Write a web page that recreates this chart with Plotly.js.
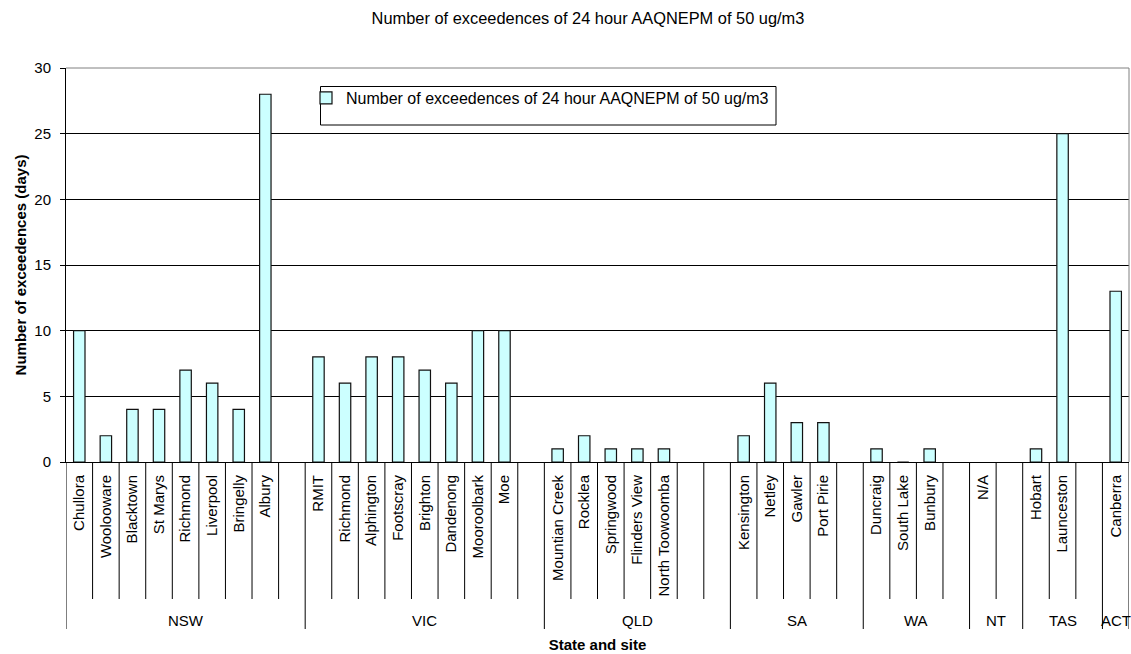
<!DOCTYPE html>
<html><head><meta charset="utf-8">
<script src="https://cdn.plot.ly/plotly-3.0.1.min.js"></script>
<style>html,body{margin:0;padding:0;background:#fff}#chart{width:1131px;height:654px}</style>
</head><body><div id="chart"></div>
<script>
const chartTitle = 'Number of exceedences of 24 hour AAQNEPM of 50 ug/m3';
const seriesName = 'Number of exceedences of 24 hour AAQNEPM of 50 ug/m3';
const yAxisTitle = 'Number of exceedences (days)';
const xAxisTitle = 'State and site';
const states = ['NSW','VIC','QLD','SA','WA','NT','TAS','ACT'];
const nswSites = ['Chullora','Woolooware','Blacktown','St Marys','Richmond','Liverpool','Bringelly','Albury',''];
const nswValues = [10,2,4,4,7,6,4,28,null];
const vicSites = ['RMIT','Richmond','Alphington','Footscray','Brighton','Dandenong','Mooroolbark','Moe',''];
const vicValues = [8,6,8,8,7,6,10,10,null];
const qldSites = ['Mountian Creek','Rocklea','Springwood','Flinders View','North Toowoomba','',''];
const qldValues = [1,2,1,1,1,null,null];
const saSites = ['Kensington','Netley','Gawler','Port Pirie',''];
const saValues = [2,6,3,3,null];
const waSites = ['Duncraig','South Lake','Bunbury',''];
const waValues = [1,0,1,null];
const ntSites = ['N/A',''];
const ntValues = [null,null];
const tasSites = ['Hobart','Launceston',''];
const tasValues = [1,25,null];
const actSites = ['Canberra'];
const actValues = [13];
const yTicks = [0,5,10,15,20,25,30];

const siteLists = [nswSites, vicSites, qldSites, saSites, waSites, ntSites, tasSites, actSites];
const valueLists = [nswValues, vicValues, qldValues, saValues, waValues, ntValues, tasValues, actValues];

const xs = [], ys = [], tickText = [], groupStart = [], groupEnd = [];
let idx = 0;
siteLists.forEach((list, g) => {
  groupStart.push(idx);
  list.forEach((name, i) => { xs.push(idx); tickText.push(name); ys.push(valueLists[g][i]); idx++; });
  groupEnd.push(idx - 1);
});
const nSlots = idx;

const W = 1131, H = 654;
const M = {l: 66, r: 2, t: 68, b: 192};
const plotH = H - M.t - M.b;
const plotW = W - M.l - M.r;
const py = p => (H - M.b - p) / plotH;  // pixel y -> paper y
const px = p => (p - M.l) / plotW;      // pixel x -> paper x
const FONT = 'Liberation Sans, Arial, sans-serif';

const shapes = [];
for (let k = 0; k <= nSlots; k++) {
  const isGroup = groupStart.includes(k) || k === nSlots;
  shapes.push({type: 'line', xref: 'x', yref: 'paper', x0: k - 0.5, x1: k - 0.5,
    y0: 0, y1: py(isGroup ? 629 : 599), line: {color: '#000', width: 1}});
}
shapes.push({type: 'line', xref: 'paper', yref: 'paper', x0: 0, x1: 1, y0: 1, y1: 1, line: {color: '#808080', width: 1}, layer: 'above'});
shapes.push({type: 'line', xref: 'paper', yref: 'paper', x0: 1, x1: 1, y0: 0, y1: 1, line: {color: '#808080', width: 1}, layer: 'above'});
// legend box
shapes.push({type: 'rect', xref: 'paper', yref: 'paper', x0: px(320.5), x1: px(776), y0: py(125), y1: py(86.5),
  line: {color: '#000', width: 1}, fillcolor: '#fff', layer: 'above'});

const annotations = states.map((s, g) => ({
  xref: 'x', yref: 'paper', x: (groupStart[g] + groupEnd[g]) / 2, y: py(620),
  text: s, showarrow: false, xanchor: 'center', yanchor: 'middle',
  font: {family: FONT, size: 15, color: '#000'}
}));

const trace = {
  type: 'bar', x: xs, y: ys, name: seriesName, width: 0.43,
  marker: {color: '#CCFFFF', line: {color: '#111', width: 1.2}},
  hoverinfo: 'x+y'
};

const layout = {
  width: W, height: H, margin: M, paper_bgcolor: '#fff', plot_bgcolor: '#fff',
  font: {family: FONT, size: 15, color: '#000'},
  title: {text: chartTitle, x: 588 / W, xref: 'container', xanchor: 'center', y: 1 - 18 / H, yref: 'container', yanchor: 'middle',
    font: {family: FONT, size: 16.4, color: '#000'}},
  showlegend: true,
  legend: {x: px(306), y: py(81), xanchor: 'left', yanchor: 'top',
    bgcolor: 'rgba(0,0,0,0)', borderwidth: 0, font: {family: FONT, size: 16, color: '#000'}},
  xaxis: {type: 'linear', range: [-0.5, nSlots - 0.5], tickmode: 'array', tickvals: xs, ticktext: tickText,
    tickangle: -90, ticks: '', showgrid: false, zeroline: false, showline: true, linecolor: '#000', linewidth: 1,
    tickfont: {family: FONT, size: 15, color: '#000'}, ticklabelstandoff: 6, automargin: false,
    title: {text: '<b>' + xAxisTitle + '</b>', font: {family: FONT, size: 15, color: '#000'}, standoff: 44}},
  yaxis: {range: [0, 30], tickmode: 'array', tickvals: yTicks, showgrid: true, gridcolor: '#000', gridwidth: 1,
    zeroline: false, showline: true, linecolor: '#000', linewidth: 1, ticks: 'outside', ticklen: 5, tickcolor: '#000',
    tickfont: {family: FONT, size: 15, color: '#000'}, ticklabelstandoff: 6, automargin: false,
    title: {text: '<b>' + yAxisTitle + '</b>', font: {family: FONT, size: 15, color: '#000'}}},
  bargap: 0.57,
  shapes: shapes, annotations: annotations
};

Plotly.newPlot('chart', [trace], layout, {displayModeBar: false, staticPlot: true});
</script></body></html>
